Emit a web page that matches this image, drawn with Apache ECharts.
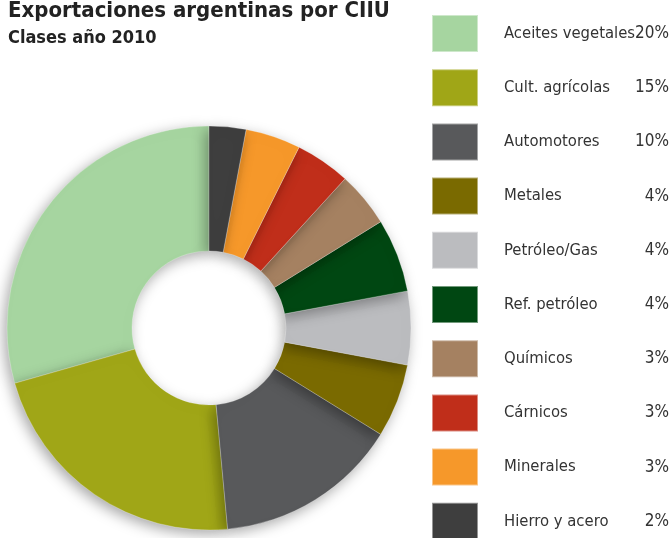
<!DOCTYPE html>
<html>
<head>
<meta charset="utf-8">
<script src="https://cdn.jsdelivr.net/npm/echarts@6/dist/echarts.min.js"></script>
<style>
  html, body { margin: 0; padding: 0; background: #fff; }
  #chart { width: 669px; height: 538px; }
</style>
</head>
<body>
<div id="chart"></div>
<script>
// datos
const categories = ['Aceites vegetales', 'Cult. agrícolas', 'Automotores', 'Metales', 'Petróleo/Gas',
  'Ref. petróleo', 'Químicos', 'Cárnicos', 'Minerales', 'Hierro y acero'];
const values = [20, 15, 10, 4, 4, 4, 3, 3, 3, 2];
const colors = ['#a6d5a0', '#a0a617', '#58595b', '#7a6a00', '#bbbcbf',
  '#004712', '#a58161', '#c02e1a', '#f6982a', '#3e3e3e'];

const font = '"Liberation Sans Narrow", "DejaVu Sans Condensed", sans-serif';

const chart = echarts.init(document.getElementById('chart'));

const seriesData = categories.map((name, i) => ({
  name: name,
  value: values[i],
  itemStyle: {color: colors[i]}
}));

chart.setOption({
  animation: false,
  title: {
    text: 'Exportaciones argentinas por CIIU',
    subtext: 'Clases año 2010',
    left: 3,
    top: -5,
    itemGap: 7,
    textStyle: {fontFamily: font, fontSize: 22, fontWeight: 'bold', color: '#222'},
    subtextStyle: {fontFamily: font, fontSize: 18, fontWeight: 'bold', color: '#222'}
  },
  legend: {
    orient: 'vertical',
    left: 426,
    top: 9,
    height: 600,
    itemWidth: 46,
    itemHeight: 37,
    itemGap: 15.2,
    icon: 'rect',
    selectedMode: false,
    data: categories,
    formatter: name => {
      const i = categories.indexOf(name);
      return name + '{p|' + values[i] + '%}';
    },
    textStyle: {
      fontFamily: font,
      fontSize: 16.5,
      color: '#333',
      width: 165,
      padding: [0, 0, 0, 21],
      rich: {
        p: {align: 'right', fontFamily: font, fontSize: 17, color: '#333'}
      }
    }
  },
  series: [{
    type: 'pie',
    center: [209, 328],
    radius: [77, 202],
    startAngle: 90,
    clockwise: false,
    label: {show: false},
    labelLine: {show: false},
    emphasis: {disabled: true},
    itemStyle: {
      borderColor: 'rgba(255,255,255,0.45)',
      borderWidth: 0.6,
      shadowBlur: 14,
      shadowColor: 'rgba(0,0,0,0.35)',
      shadowOffsetX: -3,
      shadowOffsetY: 4
    },
    data: seriesData
  }]
});
</script>
</body>
</html>
